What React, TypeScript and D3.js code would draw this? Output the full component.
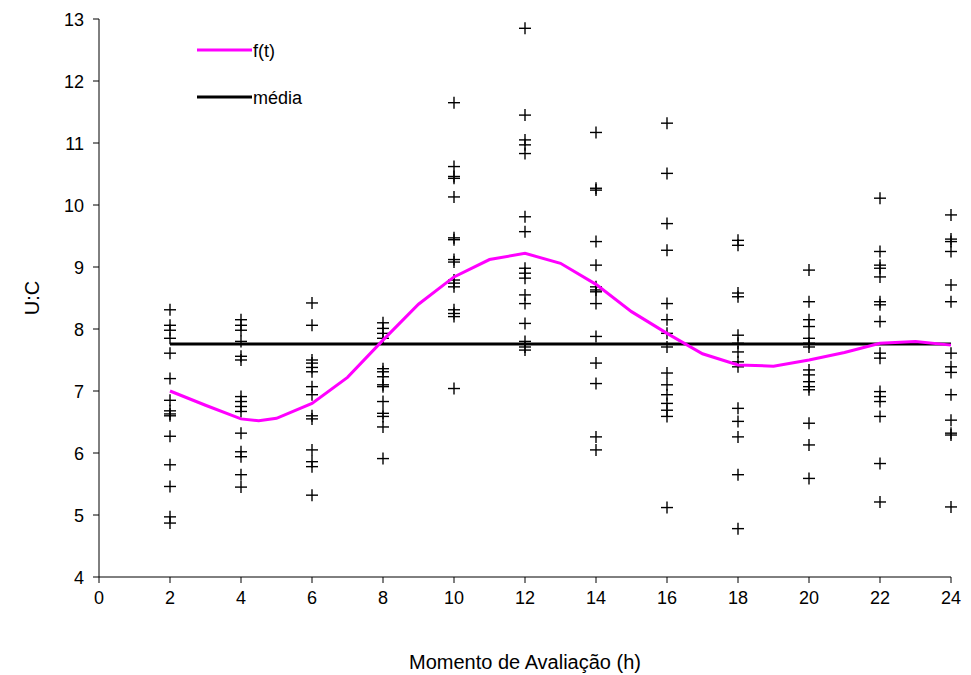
import React, { useEffect } from "react";
import * as d3 from "d3";

const hours = [2, 4, 6, 8, 10, 12, 14, 16, 18, 20, 22, 24];
const obsH2 = [8.31, 8.06, 7.98, 7.85, 7.61, 7.2, 6.85, 6.68, 6.63, 6.6, 6.27, 5.81, 5.46, 4.97, 4.87];
const obsH4 = [8.15, 8.06, 7.98, 7.8, 7.56, 7.5, 6.91, 6.83, 6.75, 6.67, 6.32, 6.02, 5.94, 5.65, 5.45];
const obsH6 = [8.42, 8.06, 7.5, 7.45, 7.38, 7.31, 7.07, 6.94, 6.6, 6.55, 6.05, 5.86, 5.78, 5.32];
const obsH8 = [8.1, 8.01, 7.93, 7.85, 7.36, 7.31, 7.23, 7.1, 7.07, 6.83, 6.64, 6.59, 6.42, 5.91];
const obsH10 = [11.65, 10.62, 10.46, 10.43, 10.13, 9.47, 9.44, 9.12, 9.08, 8.79, 8.74, 8.68, 8.31, 8.25, 8.2, 7.04];
const obsH12 = [12.85, 11.45, 11.05, 10.97, 10.83, 9.81, 9.57, 8.98, 8.9, 8.82, 8.55, 8.41, 8.09, 7.8, 7.71, 7.66];
const obsH14 = [11.17, 10.27, 10.24, 9.41, 9.03, 8.68, 8.63, 8.6, 8.41, 7.88, 7.45, 7.12, 6.26, 6.05];
const obsH16 = [11.32, 10.51, 9.7, 9.27, 8.41, 8.15, 7.93, 7.71, 7.29, 7.1, 6.94, 6.8, 6.69, 6.59, 5.12];
const obsH18 = [9.43, 9.35, 8.58, 8.52, 7.9, 7.77, 7.63, 7.47, 7.39, 6.72, 6.51, 6.26, 5.65, 4.78];
const obsH20 = [8.95, 8.44, 8.15, 8.04, 7.85, 7.77, 7.71, 7.34, 7.26, 7.15, 7.07, 7.02, 6.48, 6.13, 5.59];
const obsH22 = [10.11, 9.25, 9.03, 8.98, 8.84, 8.44, 8.39, 8.12, 7.61, 7.53, 6.99, 6.91, 6.83, 6.59, 5.83, 5.21];
const obsH24 = [9.84, 9.45, 9.41, 9.25, 8.71, 8.44, 7.61, 7.39, 7.3, 6.94, 6.53, 6.32, 6.29, 5.13];
const observations = [obsH2, obsH4, obsH6, obsH8, obsH10, obsH12, obsH14, obsH16, obsH18, obsH20, obsH22, obsH24];

const fTimes = [2, 3, 4, 4.5, 5, 6, 7, 8, 9, 10, 11, 12, 13, 14, 15, 16, 17, 18, 19, 20, 21, 22, 23, 24];
const fValues = [7.0, 6.77, 6.55, 6.52, 6.56, 6.8, 7.22, 7.82, 8.4, 8.84, 9.12, 9.22, 9.06, 8.72, 8.28, 7.93, 7.6, 7.42, 7.4, 7.5, 7.62, 7.77, 7.8, 7.74];

const meanValue = 7.76;
const meanRange = [2, 24];

const xTicks = d3.range(0, 25, 2);
const yTicks = d3.range(4, 14, 1);

const xLabel = "Momento de Avaliação (h)";
const yLabel = "U:C";
const legendLabels = ["f(t)", "média"];

export default function App() {
  useEffect(() => {
    document.body.style.margin = "0";
  }, []);

  const W = 971, H = 675;
  const left = 99, right = 951, top = 19, bottom = 577;
  const x = d3.scaleLinear().domain([0, 24]).range([left, right]);
  const y = d3.scaleLinear().domain([4, 13]).range([bottom, top]);
  const line = d3.line<number>().x((_, i) => x(fTimes[i])).y((d) => y(d));
  const font = "'Liberation Sans', Arial, sans-serif";
  const arm = 6;

  const points: { t: number; v: number }[] = [];
  observations.forEach((arr, i) => arr.forEach((v) => points.push({ t: hours[i], v })));

  return (
    <svg width={W} height={H} style={{ display: "block", background: "#fff" }} fontFamily={font}>
      <rect x={0} y={0} width={W} height={H} fill="#fff" />
      <line x1={left} x2={right} y1={bottom} y2={bottom} stroke="#000" strokeWidth={1} />
      <line x1={left} x2={left} y1={top} y2={bottom} stroke="#000" strokeWidth={1} />
      {xTicks.map((t) => (
        <g key={"x" + t}>
          <line x1={x(t)} x2={x(t)} y1={bottom} y2={bottom + 6} stroke="#000" />
          <text x={x(t)} y={bottom + 27} textAnchor="middle" fontSize={18}>{t}</text>
        </g>
      ))}
      {yTicks.map((t) => (
        <g key={"y" + t}>
          <line x1={left - 6} x2={left} y1={y(t)} y2={y(t)} stroke="#000" />
          <text x={left - 15} y={y(t) + 6.5} textAnchor="end" fontSize={18}>{t}</text>
        </g>
      ))}
      <text x={(left + right) / 2} y={669} textAnchor="middle" fontSize={20}>{xLabel}</text>
      <text transform={`translate(39,${(top + bottom) / 2}) rotate(-90)`} textAnchor="middle" fontSize={20}>{yLabel}</text>

      {points.map((p, i) => (
        <g key={"p" + i} stroke="#000" strokeWidth={1.4}>
          <line x1={x(p.t) - arm} x2={x(p.t) + arm} y1={y(p.v)} y2={y(p.v)} />
          <line x1={x(p.t)} x2={x(p.t)} y1={y(p.v) - arm} y2={y(p.v) + arm} />
        </g>
      ))}
      <line x1={x(meanRange[0])} x2={x(meanRange[1])} y1={y(meanValue)} y2={y(meanValue)} stroke="#000" strokeWidth={3} />
      <path d={line(fValues) || ""} fill="none" stroke="#ff00ff" strokeWidth={3} />

      <line x1={197} x2={252} y1={50} y2={50} stroke="#ff00ff" strokeWidth={3} />
      <text x={253} y={56.5} fontSize={18}>{legendLabels[0]}</text>
      <line x1={197} x2={252} y1={97} y2={97} stroke="#000" strokeWidth={3} />
      <text x={253} y={103.5} fontSize={18}>{legendLabels[1]}</text>
    </svg>
  );
}
